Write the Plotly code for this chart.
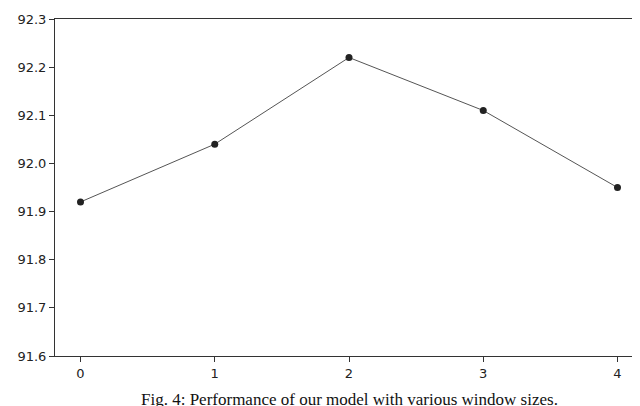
import plotly.graph_objects as go

x_vals = [0, 1, 2, 3, 4]
y_vals = [91.92, 92.04, 92.22, 92.11, 91.95]
y_ticks = [91.6, 91.7, 91.8, 91.9, 92.0, 92.1, 92.2, 92.3]
caption = "Fig. 4: Performance of our model with various window sizes."

fig = go.Figure(go.Scatter(x=x_vals, y=y_vals, mode="lines+markers",
    line=dict(color="#555555", width=1), marker=dict(color="#222222", size=7)))
fig.update_layout(width=640, height=406, plot_bgcolor="white", paper_bgcolor="white",
    margin=dict(l=47, r=4, t=9, b=58), showlegend=False,
    font=dict(family="DejaVu Sans", size=13, color="#222"))
fig.update_xaxes(range=[-0.19, 4.19], tickvals=x_vals, showgrid=False, zeroline=False,
    showline=True, linecolor="#333", mirror=True, ticks="outside", ticklen=5, tickcolor="#333")
fig.update_yaxes(range=[91.6, 92.3], tickvals=y_ticks, ticktext=[f"{v:.1f}" for v in y_ticks],
    showgrid=False, zeroline=False, showline=True, linecolor="#333", mirror=True,
    ticks="outside", ticklen=5, tickcolor="#333")
fig.add_annotation(text=caption, xref="paper", yref="paper", x=0.5, y=-0.13, yanchor="middle",
    showarrow=False, font=dict(family="Liberation Serif", size=17, color="#111"))
fig.write_html("out.html")
